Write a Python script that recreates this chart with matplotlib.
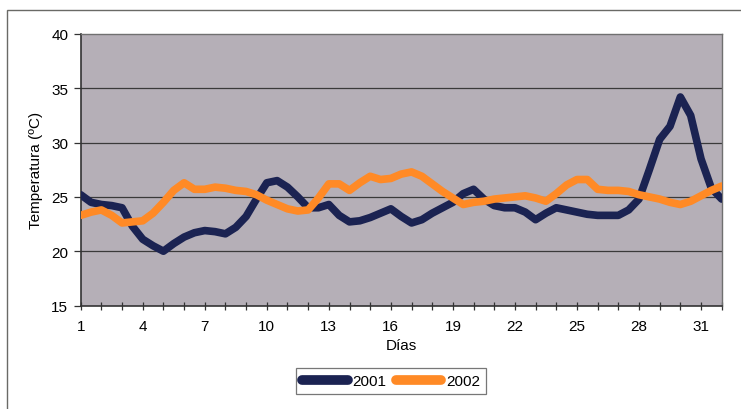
import numpy as np
import matplotlib
matplotlib.use("Agg")
import matplotlib.pyplot as plt
from matplotlib.patches import Rectangle

plt.rcParams['font.family'] = ['Liberation Sans', 'DejaVu Sans']

# lecturas cada medio dia
dias = np.arange(1, 32.5, 0.5)
t2001 = [25.2, 24.5, 24.3, 24.2, 24.0, 22.3, 21.1, 20.5, 20.0, 20.7,
         21.3, 21.7, 21.9, 21.8, 21.6, 22.2, 23.2, 24.8, 26.3, 26.5,
         25.9, 25.0, 24.0, 24.0, 24.3, 23.3, 22.7, 22.8, 23.1, 23.5,
         23.9, 23.2, 22.6, 22.9, 23.5, 24.0, 24.5, 25.3, 25.7, 24.8,
         24.2, 24.0, 24.0, 23.6, 22.9, 23.5, 24.0, 23.8, 23.6, 23.4,
         23.3, 23.3, 23.3, 23.8, 24.8, 27.5, 30.3, 31.5, 34.2, 32.5,
         28.5, 25.8, 24.8]
t2002 = [23.3, 23.6, 23.8, 23.3, 22.6, 22.7, 22.8, 23.5, 24.5, 25.6,
         26.3, 25.7, 25.7, 25.9, 25.8, 25.6, 25.5, 25.2, 24.7, 24.3,
         23.9, 23.7, 23.8, 24.9, 26.2, 26.2, 25.6, 26.3, 26.9, 26.6,
         26.7, 27.1, 27.3, 26.9, 26.2, 25.5, 24.9, 24.3, 24.5, 24.6,
         24.8, 24.9, 25.0, 25.1, 24.9, 24.6, 25.3, 26.1, 26.6, 26.6,
         25.7, 25.6, 25.6, 25.5, 25.2, 25.0, 24.8, 24.5, 24.3, 24.6,
         25.1, 25.6, 26.0]
xticks = list(range(1, 32, 3))
yticks = [15, 20, 25, 30, 35, 40]

fig = plt.figure(figsize=(7.41, 4.10), dpi=100)
ax = fig.add_axes([80.7 / 741, 1 - 306.5 / 410, (721.7 - 80.7) / 741, (306.5 - 35) / 410])
ax.set_facecolor('#b5afb7')

# marco exterior
fig.patches.append(Rectangle((7 / 741, -0.1), 1.0, 1 - 11 / 410 + 0.1,
                             transform=fig.transFigure, fill=False,
                             edgecolor='#6a6a66', linewidth=1.0))

for y in yticks[1:-1]:
    ax.axhline(y, color='#3a3a3a', linewidth=0.9, zorder=1)

ax.plot(dias, t2001, color='#1b2352', linewidth=5.5, solid_capstyle='round',
        solid_joinstyle='round', label='2001', zorder=3)
ax.plot(dias, t2002, color='#ff8a26', linewidth=5.5, solid_capstyle='round',
        solid_joinstyle='round', label='2002', zorder=3)

ax.set_xlim(1, 32)
ax.set_ylim(15, 40)
ax.set_xticks(xticks)
ax.set_xticks(range(1, 33), minor=True)
ax.set_yticks(yticks)
ax.tick_params(axis='x', which='both', direction='inout', length=6, width=0.9,
               color='#333333', labelsize=11, pad=7)
ax.tick_params(axis='y', direction='out', length=5, width=0.9, color='#333333',
               labelsize=11, pad=4)
for s in ['left', 'bottom']:
    ax.spines[s].set_color('#333333')
    ax.spines[s].set_linewidth(1.2)
for s in ['top', 'right']:
    ax.spines[s].set_color('#707070')
    ax.spines[s].set_linewidth(1.0)

ax.set_xlabel('Días', fontsize=11, labelpad=3)
ax.set_ylabel('Temperatura (ºC)', fontsize=11, labelpad=6)

leg = fig.legend(loc='center', bbox_to_anchor=(391 / 741, 1 - 382 / 410), ncol=2,
                 fontsize=11, frameon=True, fancybox=False, handlelength=3.0,
                 columnspacing=0.6, handletextpad=0.3, borderpad=0.4)
leg.get_frame().set_edgecolor('#555555')
leg.get_frame().set_linewidth(0.9)
for h in leg.get_lines():
    h.set_linewidth(7)

fig.savefig('out.png', dpi=100)
